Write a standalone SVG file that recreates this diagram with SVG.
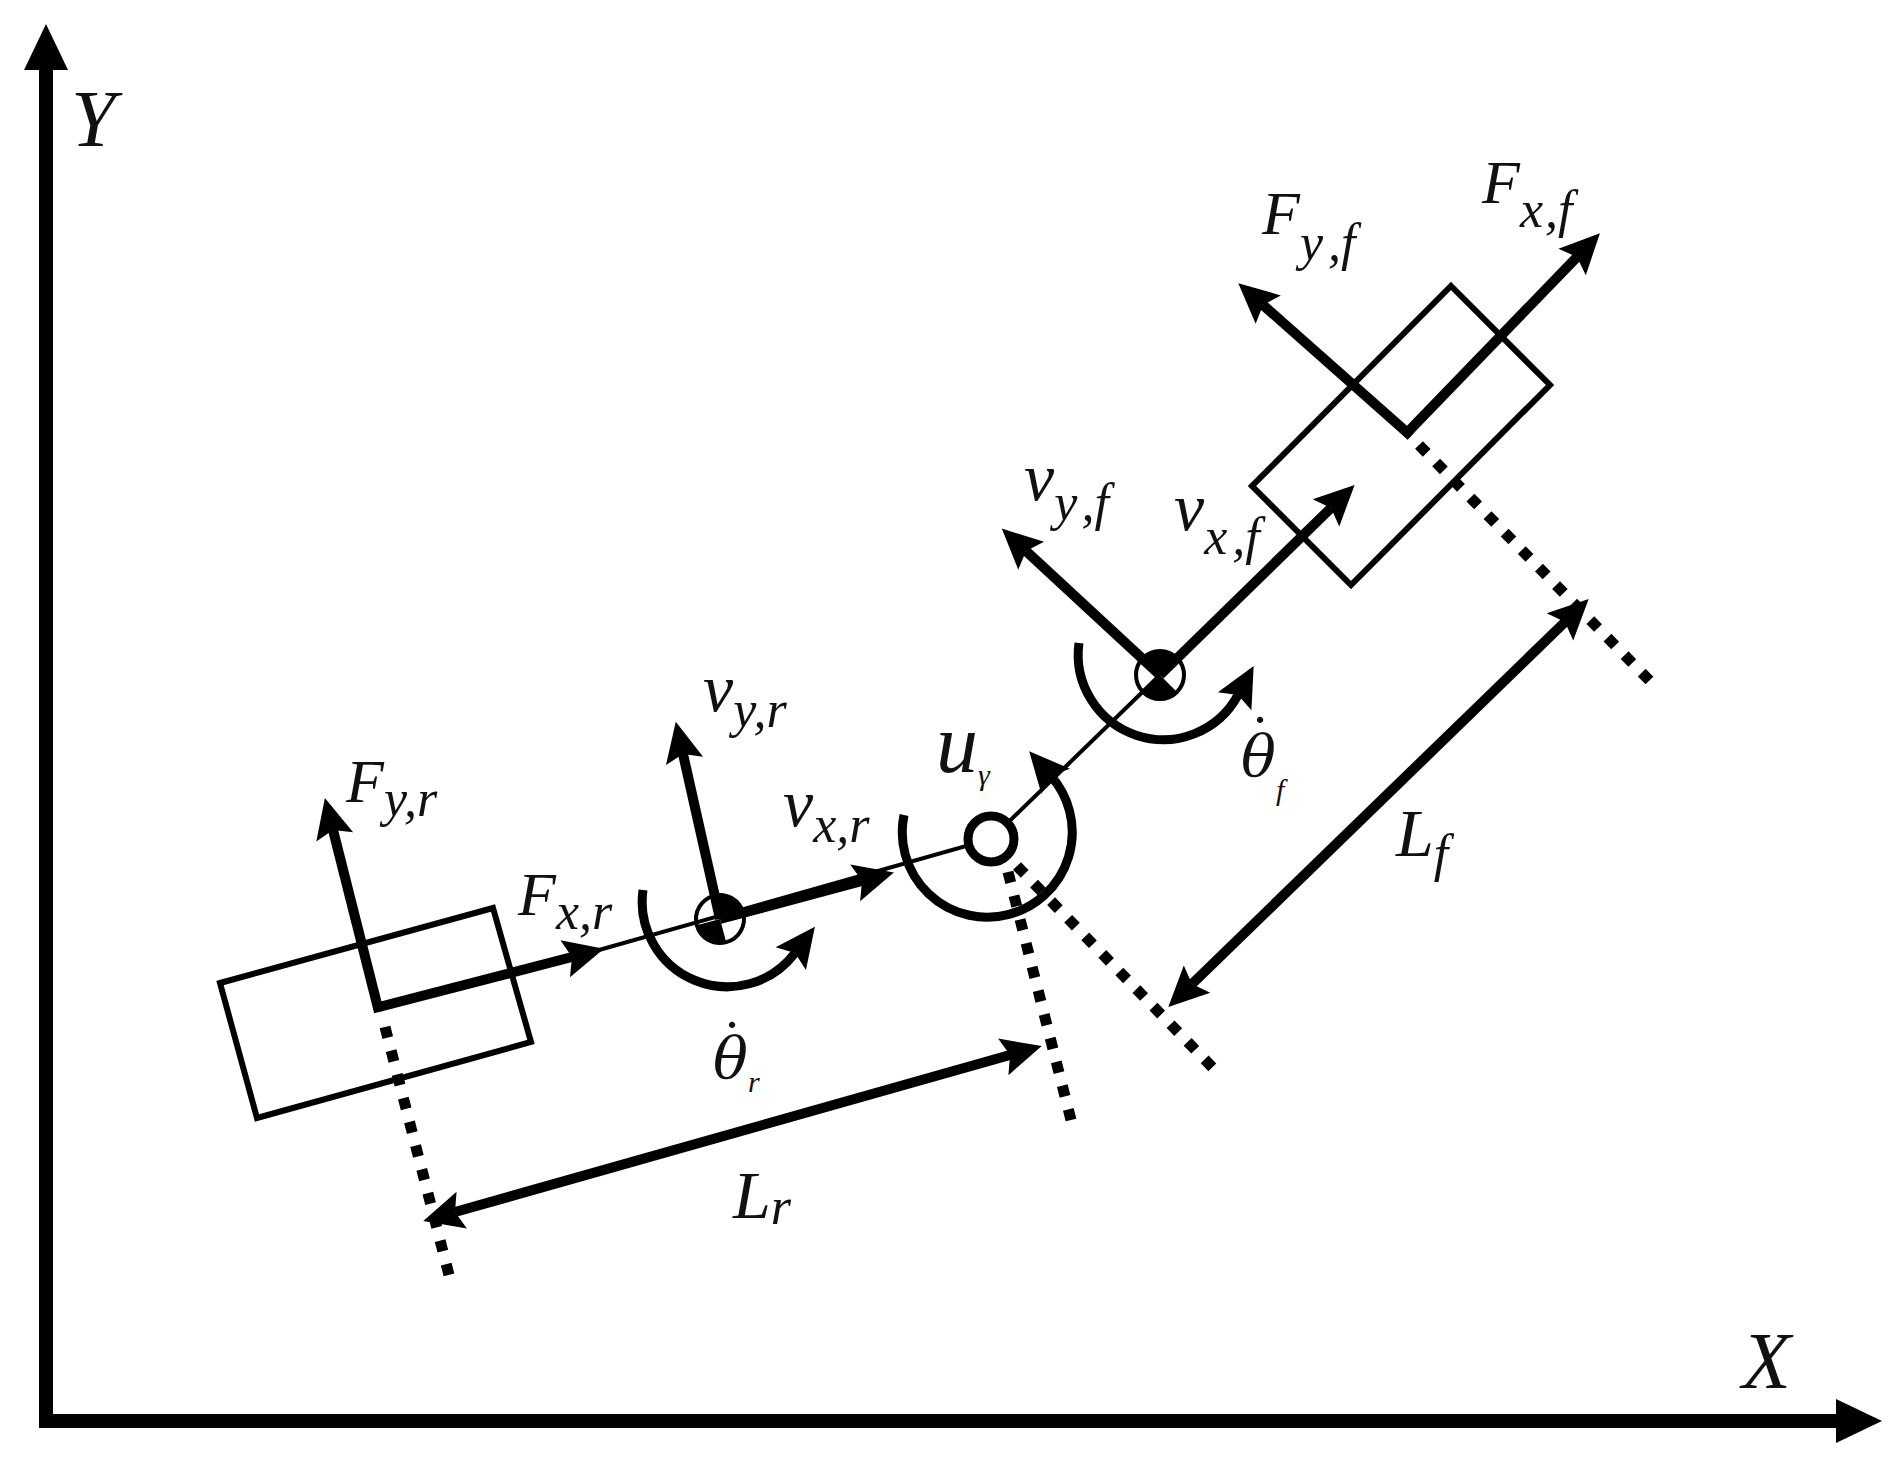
<svg xmlns="http://www.w3.org/2000/svg" width="1891" height="1459" viewBox="0 0 1891 1459">
<style>
.thick{fill:none;stroke:#000;stroke-width:10;marker-end:url(#head)}
.thin{fill:none;stroke:#000;stroke-width:4}
.wheel{fill:none;stroke:#000;stroke-width:6}
.axis{fill:none;stroke:#000;stroke-width:14;marker-end:url(#axhead)}
.dot{fill:none;stroke:#000;stroke-width:11;stroke-dasharray:11 13.5}
.arc{fill:none;stroke:#000;stroke-width:9;marker-end:url(#head)}
.dim{fill:none;stroke:#000;stroke-width:10;marker-end:url(#head);marker-start:url(#headr)}
text{font-family:"Liberation Serif","DejaVu Serif",serif;font-style:italic;fill:#111}
.m{font-size:62px}.v{font-size:68px}.s{font-size:52px}.t{font-size:30px}.b{font-size:80px}.l{font-size:68px}.u{font-size:84px}
.th{font-family:"DejaVu Serif",serif;font-size:58px}
.th .t{font-family:"Liberation Serif",serif}
.th .d{font-family:"Liberation Serif",serif;font-style:normal;font-size:60px}
</style>
<defs>
<marker id="head" markerUnits="userSpaceOnUse" markerWidth="60" markerHeight="60" refX="7" refY="30" orient="auto" overflow="visible"><path d="M0,11 L40,30 L0,49 L7,30 z" fill="#000"/></marker>
<marker id="headr" markerUnits="userSpaceOnUse" markerWidth="60" markerHeight="60" refX="33" refY="30" orient="auto" overflow="visible"><path d="M40,11 L0,30 L40,49 L33,30 z" fill="#000"/></marker>
<marker id="axhead" markerUnits="userSpaceOnUse" markerWidth="60" markerHeight="60" refX="2" refY="30" orient="auto" overflow="visible"><path d="M0,8 L46,30 L0,52 z" fill="#000"/></marker>
</defs>
<g id="cg-rear" transform="translate(720,919) rotate(-15)"><circle r="24" fill="#fff" stroke="#000" stroke-width="4"/><path d="M0,0L24,0A24,24 0 0 0 0,-24zM0,0L-24,0A24,24 0 0 0 0,24z" fill="#000"/></g>
<g id="cg-front" transform="translate(1160,675) rotate(-45)"><circle r="24" fill="#fff" stroke="#000" stroke-width="4"/><path d="M0,0L24,0A24,24 0 0 0 0,-24zM0,0L-24,0A24,24 0 0 0 0,24z" fill="#000"/></g>
<g id="wheel-rear"><path class="wheel" d="M220,983L493,908L531,1042L257,1118z"/></g>
<g id="wheel-front"><path class="wheel" d="M1451,286L1550,385L1351,585L1252,486z"/></g>
<g id="connectors">
<path id="axis-y" class="axis" d="M46,1428V68"/>
<path id="axis-x" class="axis" d="M40,1421H1838"/>
<path class="thin" d="M599,950L991,839L1160,675"/>
<path class="dot" d="M385,1027L449,1275"/>
<path class="dot" d="M1008,872L1071,1120"/>
<path class="dot" d="M1017,866L1212.3,1067.3"/>
<path class="dot" d="M1419,445L1649.5,680.6"/>
<path class="thick" d="M379,1007L572,957"/>
<path class="thick" d="M379,1012L333,830"/>
<path class="thick" d="M720,919L683,754"/>
<path class="thick" d="M720,919L862,881"/>
<path class="thick" d="M1160,675L1026,551"/>
<path class="thick" d="M1160,675L1331,508"/>
<path class="thick" d="M1404,436L1577,257"/>
<path class="thick" d="M1411,436L1263,305"/>
<path class="dim" d="M1192,984L1565,622"/>
<path class="dim" d="M455,1212L1010,1055"/>
<path class="arc" d="M643,890A85,85 0 0 0 795,953"/>
<path class="arc" d="M904,815A85,85 0 1 0 1051,776"/>
<path class="arc" d="M1079,643A85,85 0 0 0 1238,695"/>
</g>
<g id="hinge"><circle cx="991" cy="839" r="23" fill="#fff" stroke="#000" stroke-width="9"/></g>
<g id="labels">
<text x="71" y="146" class="b">Y</text>
<text x="1742" y="1388" class="b">X</text>
<text x="346" y="802" class="m">F<tspan class="s" dy="14">y,r</tspan></text>
<text x="518" y="915" class="m">F<tspan class="s" dy="14">x,r</tspan></text>
<text x="703" y="711" class="v">v<tspan class="s" dy="16">y,r</tspan></text>
<text x="783" y="826" class="v">v<tspan class="s" dy="16">x,r</tspan></text>
<text x="1024" y="500" class="v">v<tspan class="s" dy="20">y<tspan dx="7">,f</tspan></tspan></text>
<text x="1174" y="530" class="v">v<tspan class="s" dy="24">x<tspan dx="5">,f</tspan></tspan></text>
<text x="1262" y="234" class="m">F<tspan class="s" dy="26">y<tspan dx="8">,f</tspan></tspan></text>
<text x="1482" y="203" class="m">F<tspan class="s" dy="24">x<tspan dx="2">,f</tspan></tspan></text>
<text x="936" y="772" class="u">u<tspan class="t" dy="13">γ</tspan></text>
<text x="713" y="1078" class="th">θ<tspan class="t" dy="14">r</tspan><tspan class="d" x="722" y="1061">˙</tspan></text>
<text x="1241" y="776" class="th">θ<tspan class="t" dy="24">f</tspan><tspan class="d" x="1250" y="756">˙</tspan></text>
<text x="733" y="1218" class="l">L<tspan class="s" dy="6">r</tspan></text>
<text x="1396" y="856" class="l">L<tspan class="s" dy="15">f</tspan></text>
</g>
</svg>
